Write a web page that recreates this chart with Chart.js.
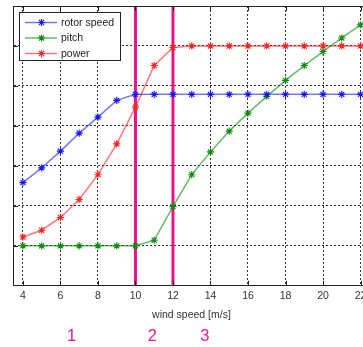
<!DOCTYPE html>
<html>
<head>
<meta charset="utf-8">
<script src="https://cdn.jsdelivr.net/npm/chart.js@4.4.1/dist/chart.umd.min.js"></script>
<style>
html,body{margin:0;padding:0;background:#fff;}
#wrap{width:363px;height:347px;overflow:hidden;position:relative;}
</style>
</head>
<body>
<div id="wrap"><canvas id="c" width="375" height="347"></canvas></div>
<script>
// ---- data ----
const windSpeed = [4,5,6,7,8,9,10,11,12,13,14,15,16,17,18,19,20,21,22];
const rotorSpeed = [2.58,2.95,3.37,3.82,4.22,4.64,4.79,4.79,4.79,4.79,4.79,4.79,4.79,4.79,4.79,4.79,4.79,4.79,4.79];
const pitch = [1.0,1.0,1.0,1.0,1.0,1.0,1.0,1.14,1.98,2.78,3.35,3.87,4.32,4.74,5.14,5.51,5.86,6.2,6.53];
const power = [1.22,1.39,1.71,2.16,2.78,3.55,4.47,5.51,5.96,6.0,6.0,6.0,6.0,6.0,6.0,6.0,6.0,6.0,6.0];
const seriesNames = ['rotor speed','pitch','power'];
const regionBounds = [10, 12];          // vertical marker lines (wind speed)
const regionLabels = ['1','2','3'];
const regionLabelX = [6.6, 10.9, 13.7]; // wind speed where labels sit
const xTicks = [4,6,8,10,12,14,16,18,20,22];
const yRange = [0, 7];

const FONT = '"Liberation Sans", Arial, sans-serif';
const pts = arr => windSpeed.map((w,i)=>({x:w,y:arr[i]}));

const seriesStyle = [
  {line:'rgba(30,30,255,0.6)', mark:'#1515ff'},
  {line:'rgba(0,140,0,0.6)', mark:'#108a10'},
  {line:'rgba(255,30,30,0.6)', mark:'#ff2020'}
];
const seriesData = [rotorSpeed, pitch, power];

const datasets = seriesData.map((arr,i)=>({
  label: seriesNames[i],
  data: pts(arr),
  borderColor: seriesStyle[i].line,
  borderWidth: 1.5,
  pointStyle: 'star',
  pointRadius: 3.6,
  pointBorderWidth: 1.1,
  pointBorderColor: seriesStyle[i].mark,
  pointBackgroundColor: seriesStyle[i].mark,
  tension: 0,
  order: 0
}));
regionBounds.forEach(b=>{
  datasets.push({
    label: 'bound',
    data: [{x:b,y:yRange[0]},{x:b,y:yRange[1]}],
    borderColor: '#e5158a',
    borderWidth: 3,
    pointRadius: 0,
    order: 1
  });
});

const decor = {
  id: 'decor',
  afterDraw(chart){
    const ctx = chart.ctx, a = chart.chartArea, xs = chart.scales.x, ys = chart.scales.y;
    ctx.save();
    // top border
    ctx.strokeStyle = '#222'; ctx.lineWidth = 1;
    ctx.beginPath(); ctx.moveTo(a.left, a.top+0.5); ctx.lineTo(a.right, a.top+0.5); ctx.stroke();
    // inward ticks
    ctx.beginPath();
    xTicks.forEach(t=>{ const px = Math.round(xs.getPixelForValue(t))+0.5;
      ctx.moveTo(px, a.bottom); ctx.lineTo(px, a.bottom-5);
      ctx.moveTo(px, a.top); ctx.lineTo(px, a.top+5); });
    for(let v=yRange[0]+1; v<yRange[1]; v++){ const py = Math.round(ys.getPixelForValue(v))+0.5;
      ctx.moveTo(a.left, py); ctx.lineTo(a.left+5, py); }
    ctx.stroke();
    // legend
    const lx=19.5, ly=12.5, lw=101, lh=48;
    ctx.fillStyle='#fff'; ctx.fillRect(lx,ly,lw,lh);
    ctx.strokeStyle='#222'; ctx.strokeRect(lx,ly,lw,lh);
    ctx.font = '10.5px '+FONT; ctx.textBaseline='middle'; ctx.textAlign='left';
    seriesNames.forEach((n,i)=>{
      const y = 22 + i*15.5 + 0.5;
      ctx.strokeStyle = seriesStyle[i].line; ctx.lineWidth = 1.5;
      ctx.beginPath(); ctx.moveTo(25,y); ctx.lineTo(57,y); ctx.stroke();
      ctx.strokeStyle = seriesStyle[i].mark; ctx.fillStyle = seriesStyle[i].mark; ctx.lineWidth = 1.1;
      Chart.helpers.drawPoint(ctx, {pointStyle:'star', radius:3.6, borderWidth:1.1, rotation:0}, 41.5, y);
      ctx.fillStyle = '#222';
      ctx.fillText(n, 61, y + 0.5);
    });
    // region labels
    ctx.fillStyle = '#f0198e'; ctx.font = '16.5px '+FONT; ctx.textAlign='center';
    regionLabels.forEach((t,i)=>{
      ctx.fillText(t, xs.getPixelForValue(regionLabelX[i]), 336);
    });
    ctx.restore();
  }
};

new Chart(document.getElementById('c'), {
  type: 'line',
  data: { datasets },
  options: {
    responsive: false,
    animation: false,
    layout: { padding: { left: 13, top: 6, right: 0, bottom: 26 } },
    plugins: { legend: { display: false }, tooltip: { enabled: false } },
    scales: {
      x: {
        type: 'linear', min: 3.47, max: 22.5,
        afterBuildTicks: s => { s.ticks = xTicks.map(v=>({value:v})); },
        grid: { color: '#333', lineWidth: 1, drawTicks: false },
        border: { display: true, color: '#222', dash: [2,2], width: 1 },
        ticks: { padding: 4, color: '#333', font: { family: FONT, size: 10.5 } },
        title: { display: true, text: 'wind speed [m/s]', color: '#333', padding: {top: 2, bottom: 0}, font: { family: FONT, size: 10.5 } }
      },
      y: {
        type: 'linear', min: yRange[0], max: yRange[1],
        afterBuildTicks: s => { const t=[]; for(let v=yRange[0]; v<=yRange[1]; v++) t.push({value:v}); s.ticks=t; },
        grid: { color: '#333', lineWidth: 1, drawTicks: false },
        border: { display: true, color: '#222', width: 1, dash: [2,2] },
        ticks: { display: false }
      }
    }
  },
  plugins: [decor]
});
</script>
</body>
</html>
